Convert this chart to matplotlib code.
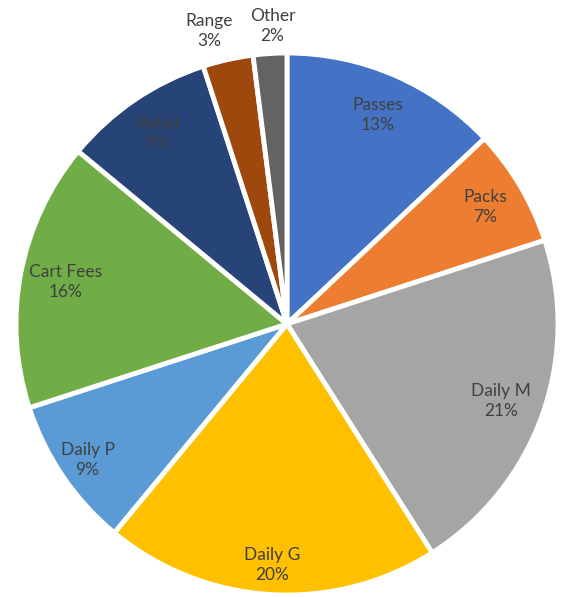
import matplotlib.pyplot as plt
import numpy as np

# Répartition des revenus (%)
categories = ['Passes', 'Packs', 'Daily M', 'Daily G', 'Daily P',
              'Cart Fees', 'Retail', 'Range', 'Other']
valeurs = [13, 7, 21, 20, 9, 16, 9, 3, 2]
couleurs = ['#4472C4', '#ED7D31', '#A5A5A5', '#FFC000', '#5B9BD5',
            '#70AD47', '#264478', '#9E480E', '#636363']
# distance des étiquettes (petites parts à l'extérieur) et décalage angulaire
dist_label = [0.84, 0.85, 0.84, 0.89, 0.89, 0.83, 0.85, 1.12, 1.10]
decal_deg = [0, 0, 0, 0, 0, 0, 0, 2.3, -0.8]

plt.rcParams['font.family'] = ['Lato', 'DejaVu Sans']

fig = plt.figure(figsize=(5.62, 5.97), dpi=100)
ax = fig.add_axes([0, 0, 1, 1])

ax.pie(valeurs, colors=couleurs, startangle=90, counterclock=False,
       radius=1, wedgeprops=dict(edgecolor='white', linewidth=3.5))

total = sum(valeurs)
cumul = 0
for nom, v, d, dd in zip(categories, valeurs, dist_label, decal_deg):
    mid = cumul + v / 2
    cumul += v
    ang = np.deg2rad(90 - 360 * mid / total + dd)
    ax.text(d * np.cos(ang), d * np.sin(ang), f'{nom}\n{v}%',
            ha='center', va='center', fontsize=12.5, color='#404040',
            linespacing=1.3)

ax.set_xlim(-287 / 271, (562 - 287) / 271)
ax.set_ylim(-273 / 271, (597 - 273) / 271)
ax.axis('off')

fig.savefig('out.png', dpi=100)
